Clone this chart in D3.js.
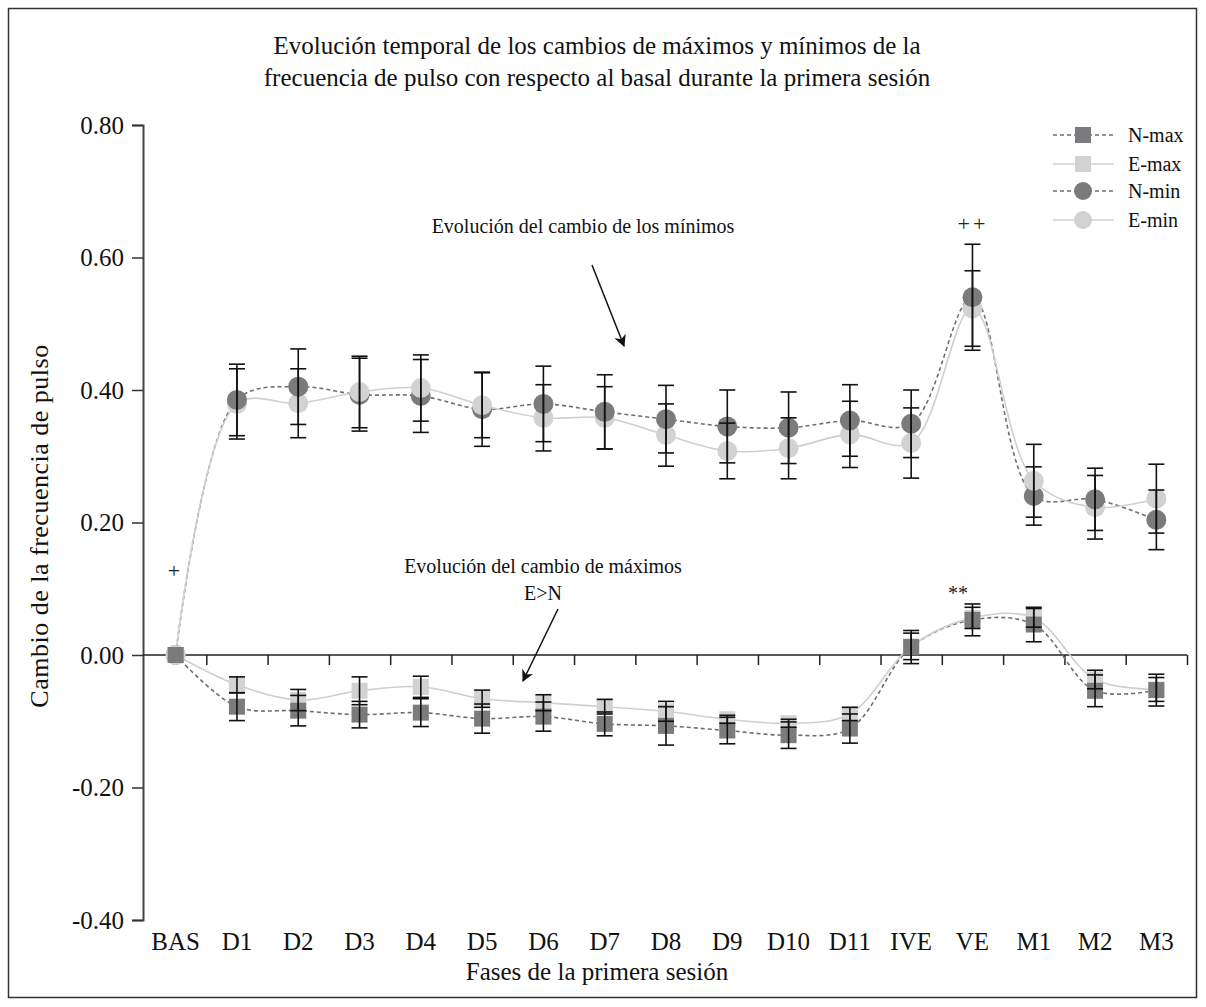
<!DOCTYPE html>
<html>
<head>
<meta charset="utf-8">
<script src="https://cdn.jsdelivr.net/npm/d3@7"></script>
<style>
  body { margin: 0; background: #fff; }
  svg text { font-family: "Liberation Serif", "DejaVu Serif", serif; fill: #111; }
</style>
</head>
<body>
<svg class="chart" width="1206" height="1007"></svg>
<script>
let cats = ["BAS", "D1", "D2", "D3", "D4", "D5", "D6", "D7", "D8", "D9", "D10", "D11", "IVE", "VE", "M1", "M2", "M3"];

let nMax = [0, -0.078, -0.084, -0.090, -0.087, -0.096, -0.093, -0.104, -0.107, -0.114, -0.121, -0.111, 0.012, 0.053, 0.046, -0.054, -0.053];
let nMaxErr = [0, 0.021, 0.023, 0.020, 0.021, 0.022, 0.022, 0.018, 0.029, 0.020, 0.020, 0.022, 0.025, 0.024, 0.026, 0.024, 0.024];
let eMax = [0, -0.045, -0.068, -0.054, -0.048, -0.066, -0.072, -0.078, -0.085, -0.097, -0.103, -0.089, 0.013, 0.056, 0.056, -0.037, -0.052];
let eMaxErr = [0, 0.012, 0.016, 0.021, 0.016, 0.013, 0.012, 0.011, 0.015, 0.006, 0.006, 0.010, 0.020, 0.016, 0.014, 0.014, 0.018];
let nMin = [0, 0.385, 0.405, 0.393, 0.391, 0.371, 0.379, 0.367, 0.356, 0.345, 0.343, 0.354, 0.349, 0.540, 0.240, 0.235, 0.204];
let nMinErr = [0, 0.054, 0.057, 0.055, 0.055, 0.056, 0.057, 0.056, 0.051, 0.055, 0.054, 0.054, 0.051, 0.080, 0.044, 0.047, 0.045];
let eMin = [0, 0.379, 0.380, 0.397, 0.403, 0.377, 0.358, 0.358, 0.332, 0.308, 0.312, 0.333, 0.320, 0.523, 0.263, 0.223, 0.236];
let eMinErr = [0, 0.053, 0.052, 0.054, 0.050, 0.049, 0.050, 0.047, 0.047, 0.042, 0.046, 0.050, 0.053, 0.057, 0.055, 0.048, 0.052];

let yTicks = [0.8, 0.6, 0.4, 0.2, 0, -0.2, -0.4];

let titleLines = [
  "Evolución temporal de los cambios de máximos y mínimos de la",
  "frecuencia de pulso con respecto al basal durante la primera sesión"
];

let darkFill = "#7b7b7d";
let lightFill = "#d2d2d2";

let series = [
  {name: "N-max", vals: nMax, err: nMaxErr, shape: "square", fill: darkFill, stroke: "#6e6e6e", dash: "4,3"},
  {name: "E-max", vals: eMax, err: eMaxErr, shape: "square", fill: lightFill, stroke: "#cfcfcf", dash: null},
  {name: "N-min", vals: nMin, err: nMinErr, shape: "circle", fill: darkFill, stroke: "#6e6e6e", dash: "4,3"},
  {name: "E-min", vals: eMin, err: eMinErr, shape: "circle", fill: lightFill, stroke: "#cfcfcf", dash: null}
];

let svg = d3.select("svg.chart");

let x = d3.scaleBand().domain(cats).range([145, 1187]).padding(0);
let y = d3.scaleLinear().domain([-0.4, 0.8]).range([920, 125]);
let bounds = d3.scaleLinear().domain([0, cats.length]).range([145, 1187]);

let cx = c => x(c) + x.bandwidth() / 2;

svg.append("rect")
  .attr("x", 8.5).attr("y", 8.5)
  .attr("width", 1188).attr("height", 989)
  .style("fill", "none")
  .style("stroke", "#333")
  .style("stroke-width", "1.5px");

svg.selectAll("text.title")
  .data(titleLines)
  .enter()
  .append("text")
  .attr("class", "title")
  .attr("x", 597)
  .attr("y", (d, i) => 54 + i * 32)
  .attr("text-anchor", "middle")
  .style("font-size", "25px")
  .text(d => d);

// y axis
let yAxis = svg.append("g")
  .attr("transform", "translate(143,0)")
  .call(d3.axisLeft(y).tickValues(yTicks).tickSize(11).tickPadding(8)
    .tickFormat(d => d3.format(".2f")(d).replace("−", "-")));
yAxis.select(".domain").style("stroke", "#444").style("stroke-width", "2px");
yAxis.selectAll(".tick line").style("stroke", "#333").style("stroke-width", "1.5px");
yAxis.selectAll(".tick text").style("font-size", "25px").style("font-family", "Liberation Serif");

// zero line with band boundary ticks
let zeroAxis = svg.append("g")
  .attr("transform", `translate(0,${y(0)})`)
  .call(d3.axisBottom(bounds).tickValues(d3.range(1, cats.length + 1)).tickSize(10).tickSizeOuter(0).tickFormat(""));
zeroAxis.select(".domain").attr("d", `M143,0H1187`).style("stroke", "#222").style("stroke-width", "1.5px");
zeroAxis.selectAll(".tick line").style("stroke", "#222").style("stroke-width", "1.5px");

// category labels at bottom
let xAxis = svg.append("g")
  .attr("transform", `translate(0,${y(-0.4)})`)
  .call(d3.axisBottom(x).tickSize(0).tickPadding(12));
xAxis.select(".domain").remove();
xAxis.selectAll(".tick text").style("font-size", "25px").style("font-family", "Liberation Serif");

svg.append("text")
  .attr("x", 597).attr("y", 980)
  .attr("text-anchor", "middle")
  .style("font-size", "25px")
  .text("Fases de la primera sesión");

svg.append("text")
  .attr("transform", "translate(48,526) rotate(-90)")
  .attr("text-anchor", "middle")
  .style("font-size", "26px")
  .style("letter-spacing", "0.5px")
  .text("Cambio de la frecuencia de pulso");

// lines
let line = d3.line()
  .x((d, i) => cx(cats[i]))
  .y(d => y(d))
  .curve(d3.curveCatmullRom.alpha(0.5));

svg.selectAll("path.series")
  .data(series)
  .enter()
  .append("path")
  .attr("class", "series")
  .attr("d", d => line(d.vals))
  .style("fill", "none")
  .style("stroke", d => d.stroke)
  .style("stroke-width", "1.6px")
  .style("stroke-dasharray", d => d.dash);

// markers
let points = [];
series.forEach(s => {
  s.vals.forEach((v, i) => points.push({s: s, cat: cats[i], v: v, err: s.err[i]}));
});

let squares = points.filter(d => d.s.shape == "square");
squares.sort((a, b) => (a.s.name == "E-max" ? 0 : 1) - (b.s.name == "E-max" ? 0 : 1));
let circles = points.filter(d => d.s.shape == "circle").sort((a, b) => a.v - b.v);

svg.selectAll("circle.pt")
  .data(circles)
  .enter()
  .append("circle")
  .attr("class", "pt")
  .attr("cx", d => cx(d.cat))
  .attr("cy", d => y(d.v))
  .attr("r", 10)
  .style("fill", d => d.s.fill);

svg.selectAll("rect.pt")
  .data(squares)
  .enter()
  .append("rect")
  .attr("class", "pt")
  .attr("x", d => cx(d.cat) - 8)
  .attr("y", d => y(d.v) - 8)
  .attr("width", 16)
  .attr("height", 16)
  .style("fill", d => d.s.fill);

// error bars
let errPts = points.filter(d => d.err > 0);
let bars = svg.selectAll("g.err")
  .data(errPts)
  .enter()
  .append("g")
  .attr("class", "err")
  .style("stroke", "#111")
  .style("stroke-width", "1.6px");

bars.append("line")
  .attr("x1", d => cx(d.cat)).attr("x2", d => cx(d.cat))
  .attr("y1", d => y(d.v + d.err)).attr("y2", d => y(d.v - d.err));
bars.append("line")
  .attr("x1", d => cx(d.cat) - 8).attr("x2", d => cx(d.cat) + 8)
  .attr("y1", d => y(d.v + d.err)).attr("y2", d => y(d.v + d.err));
bars.append("line")
  .attr("x1", d => cx(d.cat) - 8).attr("x2", d => cx(d.cat) + 8)
  .attr("y1", d => y(d.v - d.err)).attr("y2", d => y(d.v - d.err));

// annotations
svg.append("defs").append("marker")
  .attr("id", "arrow")
  .attr("viewBox", "0 0 10 10")
  .attr("refX", 9).attr("refY", 5)
  .attr("markerWidth", 12).attr("markerHeight", 12)
  .attr("markerUnits", "userSpaceOnUse")
  .attr("orient", "auto")
  .append("path")
  .attr("d", "M0,0L10,5L0,10L3,5Z")
  .style("fill", "#111");

svg.append("text")
  .attr("x", 583).attr("y", 233)
  .attr("text-anchor", "middle")
  .style("font-size", "20px")
  .text("Evolución del cambio de los mínimos");

svg.append("line")
  .attr("x1", 592).attr("y1", 265).attr("x2", 624).attr("y2", 346)
  .style("stroke", "#111").style("stroke-width", "1.5px")
  .attr("marker-end", "url(#arrow)");

svg.append("text")
  .attr("x", 543).attr("y", 573)
  .attr("text-anchor", "middle")
  .style("font-size", "20px")
  .text("Evolución del cambio de máximos");

svg.append("text")
  .attr("x", 543).attr("y", 600)
  .attr("text-anchor", "middle")
  .style("font-size", "20px")
  .text("E>N");

svg.append("line")
  .attr("x1", 558).attr("y1", 609).attr("x2", 523).attr("y2", 681)
  .style("stroke", "#111").style("stroke-width", "1.5px")
  .attr("marker-end", "url(#arrow)");

svg.append("text").attr("x", 174).attr("y", 578).attr("text-anchor", "middle")
  .style("font-size", "22px").style("fill", "#222").text("+");
svg.append("text").attr("x", 973).attr("y", 231).attr("text-anchor", "middle")
  .style("font-size", "22px").style("fill", "#222").style("letter-spacing", "3px").text("++");
svg.append("text").attr("x", 958).attr("y", 600).attr("text-anchor", "middle")
  .style("font-size", "20px").style("fill", "#222").text("**");

// legend
let legend = svg.selectAll("g.legend")
  .data(series)
  .enter()
  .append("g")
  .attr("class", "legend")
  .attr("transform", (d, i) => `translate(1083,${[135, 164, 191, 220][i]})`);

legend.append("line")
  .attr("x1", -30).attr("x2", 31)
  .style("stroke", d => d.stroke)
  .style("stroke-width", "1.4px")
  .style("stroke-dasharray", d => d.dash);

legend.filter(d => d.shape == "square").append("rect")
  .attr("x", -8).attr("y", -8).attr("width", 16).attr("height", 16)
  .style("fill", d => d.fill);

legend.filter(d => d.shape == "circle").append("circle")
  .attr("r", 9)
  .style("fill", d => d.fill);

legend.append("text")
  .attr("x", 45).attr("y", 7)
  .style("font-size", "20px")
  .text(d => d.name);
</script>
</body>
</html>
